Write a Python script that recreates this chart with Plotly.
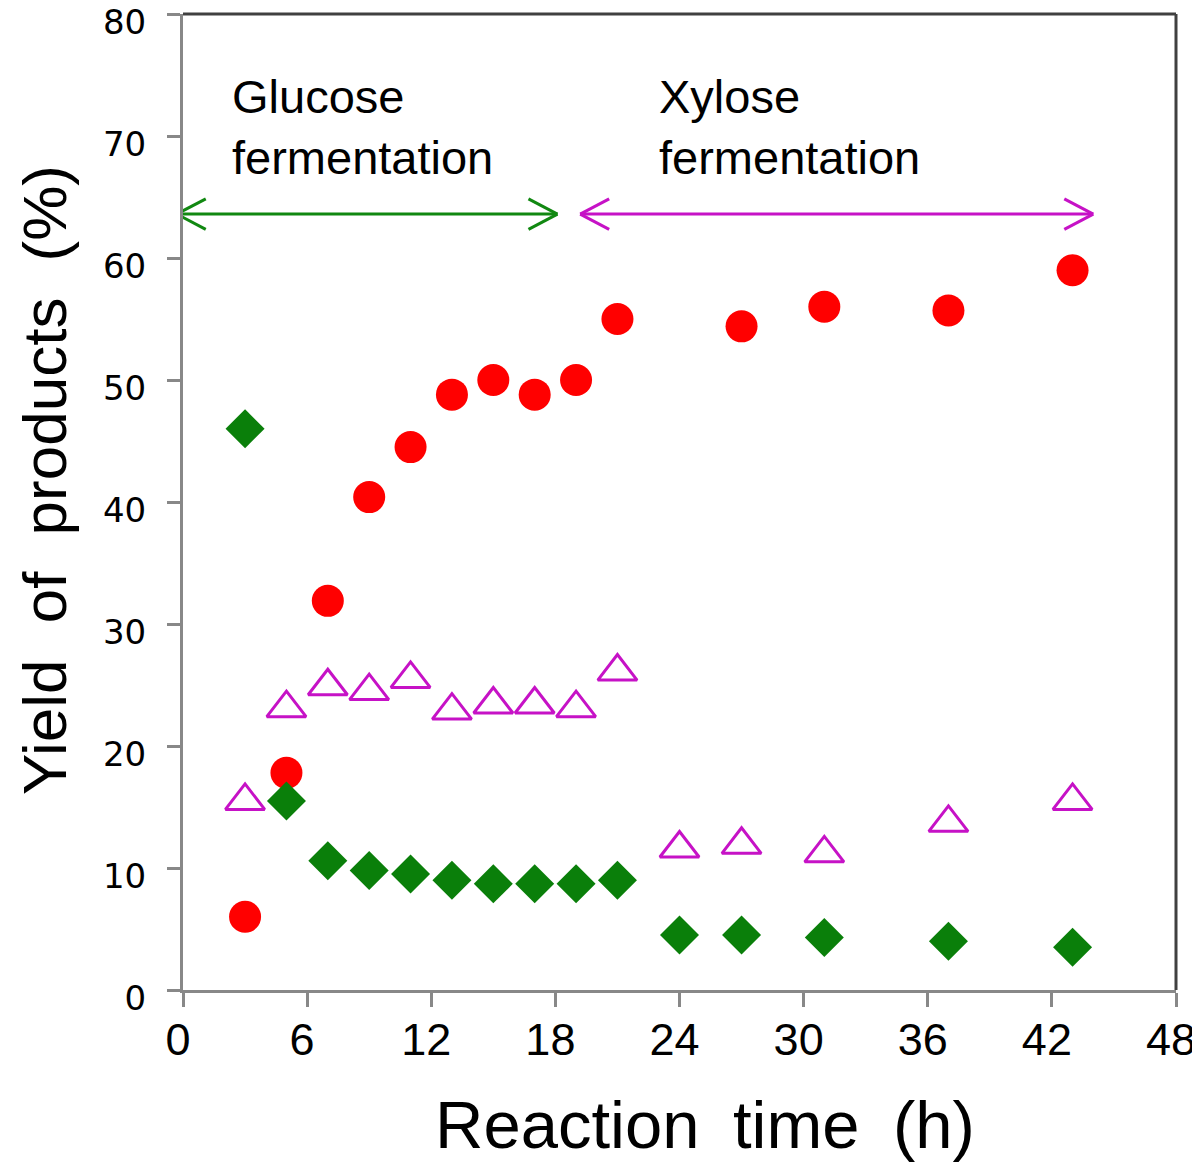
import plotly.graph_objects as go

# ---- data ----
time_ethanol = [3, 5, 7, 9, 11, 13, 15, 17, 19, 21, 27, 31, 37, 43]
yield_ethanol = [6.0, 17.8, 31.9, 40.4, 44.5, 48.8, 50.0, 48.8, 50.0, 55.0, 54.4, 56.0, 55.7, 59.0]

time_tri = [3, 5, 7, 9, 11, 13, 15, 17, 19, 21, 24, 27, 31, 37, 43]
yield_tri = [15.5, 23.1, 24.9, 24.5, 25.5, 22.9, 23.4, 23.4, 23.1, 26.1, 11.6, 11.9, 11.2, 13.7, 15.5]

time_dia = [3, 5, 7, 9, 11, 13, 15, 17, 19, 21, 24, 27, 31, 37, 43]
yield_dia = [46.0, 15.5, 10.6, 9.8, 9.5, 9.0, 8.7, 8.7, 8.7, 9.0, 4.5, 4.5, 4.3, 4.0, 3.5]

x_ticks = [0, 6, 12, 18, 24, 30, 36, 42, 48]
y_ticks = [0, 10, 20, 30, 40, 50, 60, 70, 80]

# phase arrows
phase_labels = ["Glucose<br>fermentation", "Xylose<br>fermentation"]
phase_label_x = [2.25, 22.9]
phase_start = [-0.3, 19.2]
phase_end = [18.1, 44.0]
phase_y = [63.6, 63.6]
phase_colors = ["#118811", "#C612C6"]

RED = "#FF0000"
MAGENTA = "#C612C6"
GREEN = "#0A7F0A"

fig = go.Figure()
fig.add_trace(go.Scatter(x=time_ethanol, y=yield_ethanol, mode="markers",
                         marker=dict(symbol="circle", size=32, color=RED),
                         showlegend=False, cliponaxis=False))
fig.add_trace(go.Scatter(x=time_tri, y=yield_tri, mode="markers",
                         marker=dict(symbol="triangle-up-open", size=34, color=MAGENTA,
                                     line=dict(width=3, color=MAGENTA)),
                         showlegend=False, cliponaxis=False))
fig.add_trace(go.Scatter(x=time_dia, y=yield_dia, mode="markers",
                         marker=dict(symbol="diamond", size=30, color=GREEN),
                         showlegend=False, cliponaxis=False))

shapes = []
head_dx, head_dy = 1.4, 1.25
for s, e, yv, c in zip(phase_start, phase_end, phase_y, phase_colors):
    ln = dict(color=c, width=3)
    shapes.append(dict(type="line", x0=s, x1=e, y0=yv, y1=yv, line=ln, xref="x", yref="y"))
    for sy in [1, -1]:
        shapes.append(dict(type="line", x0=s, y0=yv, x1=s + head_dx, y1=yv + sy * head_dy,
                           line=ln, xref="x", yref="y"))
        shapes.append(dict(type="line", x0=e, y0=yv, x1=e - head_dx, y1=yv + sy * head_dy,
                           line=ln, xref="x", yref="y"))
# top/right frame
shapes.append(dict(type="line", xref="paper", yref="paper", x0=0, x1=1, y0=1, y1=1,
                   line=dict(color="#404040", width=3)))
shapes.append(dict(type="line", xref="paper", yref="paper", x0=1, x1=1, y0=0, y1=1,
                   line=dict(color="#404040", width=3)))

annotations = []
for lab, lx in zip(phase_labels, phase_label_x):
    annotations.append(dict(x=lx, y=75.6, xref="x", yref="y", text=lab, showarrow=False,
                            xanchor="left", yanchor="top", align="left",
                            font=dict(family="Liberation Sans, Arial", size=47, color="black")))
annotations.append(dict(x=0.526, y=0, xref="paper", yref="paper",
                        text="Reaction\u2002time\u2002(h)", showarrow=False,
                        xanchor="center", yanchor="middle", yshift=-134,
                        font=dict(family="Liberation Sans, Arial", size=67, color="black")))
annotations.append(dict(x=0, y=0.5225, xref="paper", yref="paper",
                        text="Yield\u2002\u200aof\u2002\u200aproducts\u2002\u200a(%)", showarrow=False,
                        textangle=-90, xanchor="center", yanchor="middle", xshift=-139,
                        font=dict(family="Liberation Sans, Arial", size=62, color="black")))

fig.update_layout(
    width=1200, height=1172,
    margin=dict(l=175, r=32, t=6, b=190, autoexpand=False),
    paper_bgcolor="white", plot_bgcolor="white",
    shapes=shapes, annotations=annotations,
    xaxis=dict(range=[0, 48], tickvals=x_ticks, ticktext=[str(v) for v in x_ticks],
               showgrid=False, zeroline=False, showline=True, linecolor="#888888", linewidth=3,
               ticks="outside", ticklen=14, tickwidth=3, tickcolor="#888888",
               ticklabelstandoff=-6, ticklabelshift=-5, automargin=False,
               ticklabeloverflow="allow",
               tickfont=dict(family="Liberation Sans, Arial", size=45, color="black")),
    yaxis=dict(range=[0, 80], tickvals=y_ticks, ticktext=[str(v) for v in y_ticks],
               showgrid=False, zeroline=False, showline=True, linecolor="#888888", linewidth=3,
               ticks="outside", ticklen=13, tickwidth=3, tickcolor="#888888",
               ticklabelstandoff=14, ticklabelshift=8, automargin=False,
               ticklabeloverflow="allow",
               tickfont=dict(family="DejaVu Sans", size=34, color="black")),
)

fig.write_html("out.html")
